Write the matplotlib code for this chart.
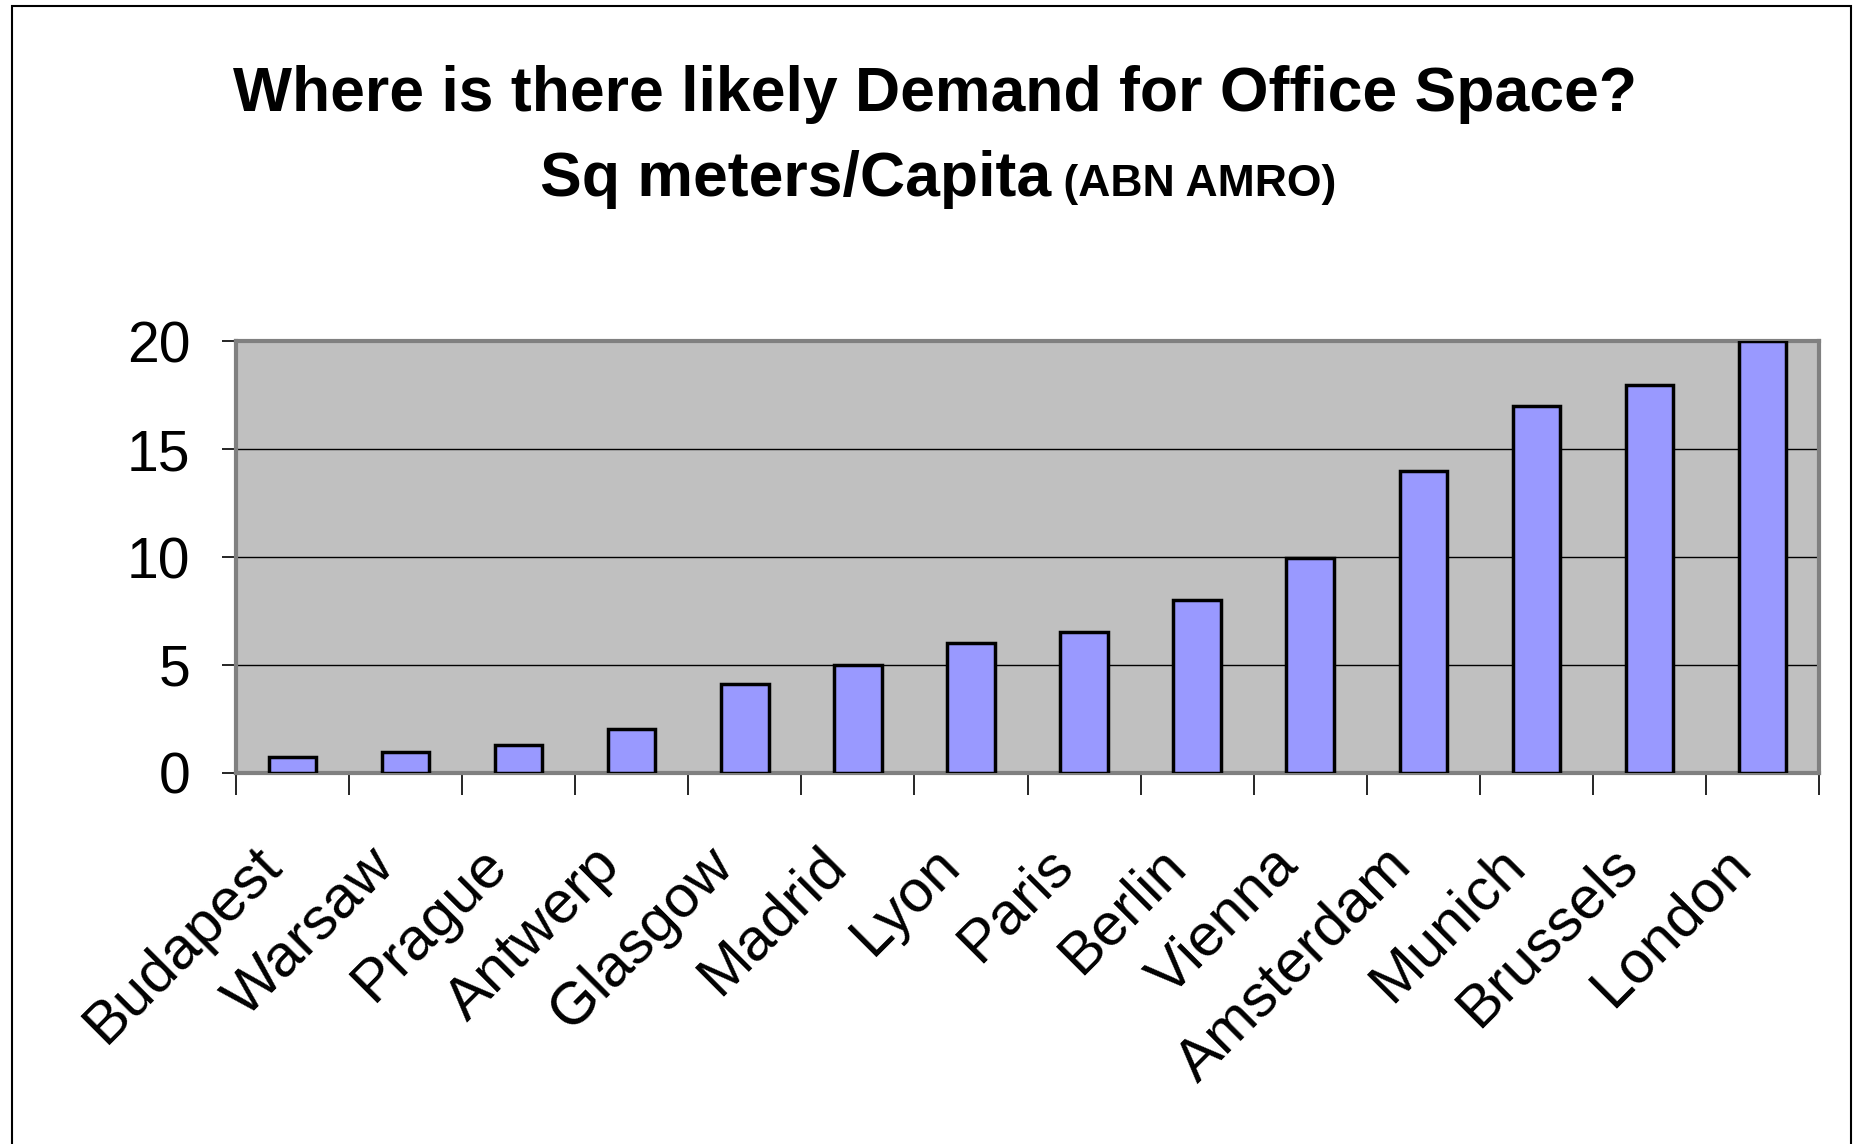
import matplotlib
matplotlib.use("Agg")
import matplotlib.pyplot as plt
from matplotlib.patches import Rectangle
from matplotlib.transforms import ScaledTranslation
import numpy as np

cities = ["Budapest", "Warsaw", "Prague", "Antwerp", "Glasgow", "Madrid", "Lyon",
          "Paris", "Berlin", "Vienna", "Amsterdam", "Munich", "Brussels", "London"]
sqm_per_capita = [0.75, 0.95, 1.3, 2.05, 4.1, 5.0, 6.0, 6.55, 8.0, 9.95, 14.0, 17.0, 17.95, 20.0]
y_ticks = [0, 5, 10, 15, 20]

plt.rcParams['font.family'] = ['Liberation Sans', 'DejaVu Sans']

W, H = 1857, 1144
fig = plt.figure(figsize=(W / 100, H / 100), dpi=100)
fig.patch.set_facecolor("white")

# outer frame
fig.add_artist(Rectangle((12 / W, -0.02), (1851 - 12) / W, 1 - 6 / H + 0.02,
                         transform=fig.transFigure, fill=False, edgecolor="black", lw=1.5))

left, right, top, bottom = 236 / W, 1819 / W, 1 - 341 / H, 1 - 773 / H
ax = fig.add_axes([left, bottom, right - left, top - bottom])
ax.set_facecolor("#C0C0C0")

x = np.arange(len(cities))
ax.bar(x, sqm_per_capita, width=0.42, color="#9999FF", edgecolor="black", linewidth=2.5, zorder=3)

ax.set_xlim(-0.5, len(cities) - 0.5)
ax.set_ylim(0, 20)
ax.set_yticks(y_ticks)
ax.set_yticklabels([str(v) for v in y_ticks], fontsize=41)
ax.yaxis.grid(True, color="black", linewidth=1.0, zorder=1)
ax.set_axisbelow(True)
ax.tick_params(axis="y", length=10, width=1.2, color="black", direction="out", pad=23)

ax.set_xticks(x)
ax.set_xticklabels(cities, fontsize=43, rotation=45, ha="right", va="top", rotation_mode="anchor")
ax.tick_params(axis="x", which="major", length=0, pad=46)
shift = ScaledTranslation(-0.40, 0, fig.dpi_scale_trans)
for lbl in ax.get_xticklabels():
    lbl.set_transform(lbl.get_transform() + shift)
ax.set_xticks(np.arange(len(cities) + 1) - 0.5, minor=True)
ax.tick_params(axis="x", which="minor", length=16, width=1.2, color="black", direction="out")

for s in ["top", "right", "left", "bottom"]:
    ax.spines[s].set_color("#808080")
    ax.spines[s].set_linewidth(3)

fig.text(935 / W, 1 - 95 / H, "Where is there likely Demand for Office Space?",
         fontsize=45, fontweight="bold", ha="center", va="center")
t1 = fig.text(0.5, 0.5, "Sq meters/Capita", fontsize=45, fontweight="bold",
              ha="left", va="baseline")
fig.canvas.draw()
r = fig.canvas.get_renderer()
bb1 = t1.get_window_extent(r)
t2 = fig.text(0, 0, " (ABN AMRO)", fontsize=32, fontweight="bold", ha="left", va="baseline")
bb2 = t2.get_window_extent(r)
total = bb1.width + bb2.width
x0 = 938 - total / 2
base_y = H - 196
t1.set_position((x0 / W, base_y / H))
t2.set_position(((x0 + bb1.width) / W, base_y / H))

fig.savefig("out.png", dpi=100, facecolor="white")
